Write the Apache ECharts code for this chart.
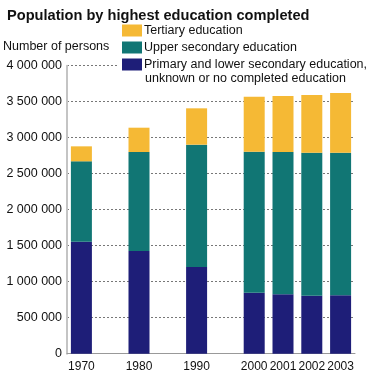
<!DOCTYPE html>
<html>
<head>
<meta charset="utf-8">
<script src="https://cdn.jsdelivr.net/npm/echarts@6/dist/echarts.min.js"></script>
<style>html,body{margin:0;padding:0;background:#fff}#c{width:369px;height:374px}</style>
</head>
<body>
<div id="c"></div>
<script>
// Categories (blank slots keep the decade spacing of the original)
var years = ['1970', '', '1980', '', '1990', '', '2000', '2001', '2002', '2003'];
// Primary and lower secondary education, unknown or no completed education
var primary = [1555000, null, 1426000, null, 1204000, null, 847000, 825000, 806000, 811000];
// Upper secondary education
var upperSecondary = [1117000, null, 1375000, null, 1699000, null, 1959000, 1976000, 1986000, 1981000];
// Tertiary education
var tertiary = [208000, null, 338000, null, 505000, null, 763000, 778000, 801000, 829000];
var yTicks = [0, 500000, 1000000, 1500000, 2000000, 2500000, 3000000, 3500000, 4000000];

var names = {
  ter: 'Tertiary education',
  upp: 'Upper secondary education',
  pri: 'Primary and lower secondary education,'
};
var colors = { ter: '#F5B935', upp: '#117674', pri: '#1E1E78' };
var FONT = 'Liberation Sans';

function fmt(v) { return String(v).replace(/\B(?=(\d{3})+(?!\d))/g, ' '); }

var chart = echarts.init(document.getElementById('c'), null, { renderer: 'canvas' });
chart.setOption({
  animation: false,
  backgroundColor: '#fff',
  title: {
    text: 'Population by highest education completed',
    left: 2, top: 3,
    textStyle: { fontFamily: FONT, fontWeight: 'bold', fontSize: 14.6, color: '#111' }
  },
  legend: {
    orient: 'vertical',
    left: 118, top: 20,
    padding: [4, 4, 4, 4],
    backgroundColor: '#fff',
    itemWidth: 20, itemHeight: 12, itemGap: 4,
    icon: 'rect',
    selectedMode: false,
    textStyle: { fontFamily: FONT, fontSize: 12.5, color: '#111', lineHeight: 12, padding: [0, 0, 0, -3] },
    data: [names.ter, names.upp, names.pri]
  },
  graphic: [
    { type: 'text', left: 3, top: 40, style: { text: 'Number of persons', fontFamily: FONT, fontSize: 12.5, fill: '#111' } },
    { type: 'text', left: 145, top: 72, z: 100, style: { text: 'unknown or no completed education', fontFamily: FONT, fontSize: 12.5, fill: '#111' } }
  ],
  grid: { left: 67, right: 14, top: 65.7, bottom: 20.3, containLabel: false },
  xAxis: {
    type: 'category',
    data: years,
    axisTick: { show: false },
    axisLine: { show: true, lineStyle: { color: '#999', width: 1 } },
    axisLabel: { fontFamily: FONT, fontSize: 12, color: '#111', margin: 7, interval: 0 }
  },
  yAxis: {
    type: 'value',
    min: yTicks[0], max: yTicks[yTicks.length - 1], interval: 500000,
    axisLine: { show: true, lineStyle: { color: '#c4c4c4', width: 2 } },
    axisTick: { show: false },
    splitLine: { show: true, lineStyle: { color: '#777', width: 1, type: [2, 2] } },
    axisLabel: { fontFamily: FONT, fontSize: 12.5, color: '#111', margin: 5, formatter: fmt }
  },
  series: [
    { name: names.pri, type: 'bar', stack: 'a', data: primary, barWidth: 21, itemStyle: { color: colors.pri } },
    { name: names.upp, type: 'bar', stack: 'a', data: upperSecondary, barWidth: 21, itemStyle: { color: colors.upp } },
    { name: names.ter, type: 'bar', stack: 'a', data: tertiary, barWidth: 21, itemStyle: { color: colors.ter } }
  ]
});
</script>
</body>
</html>
